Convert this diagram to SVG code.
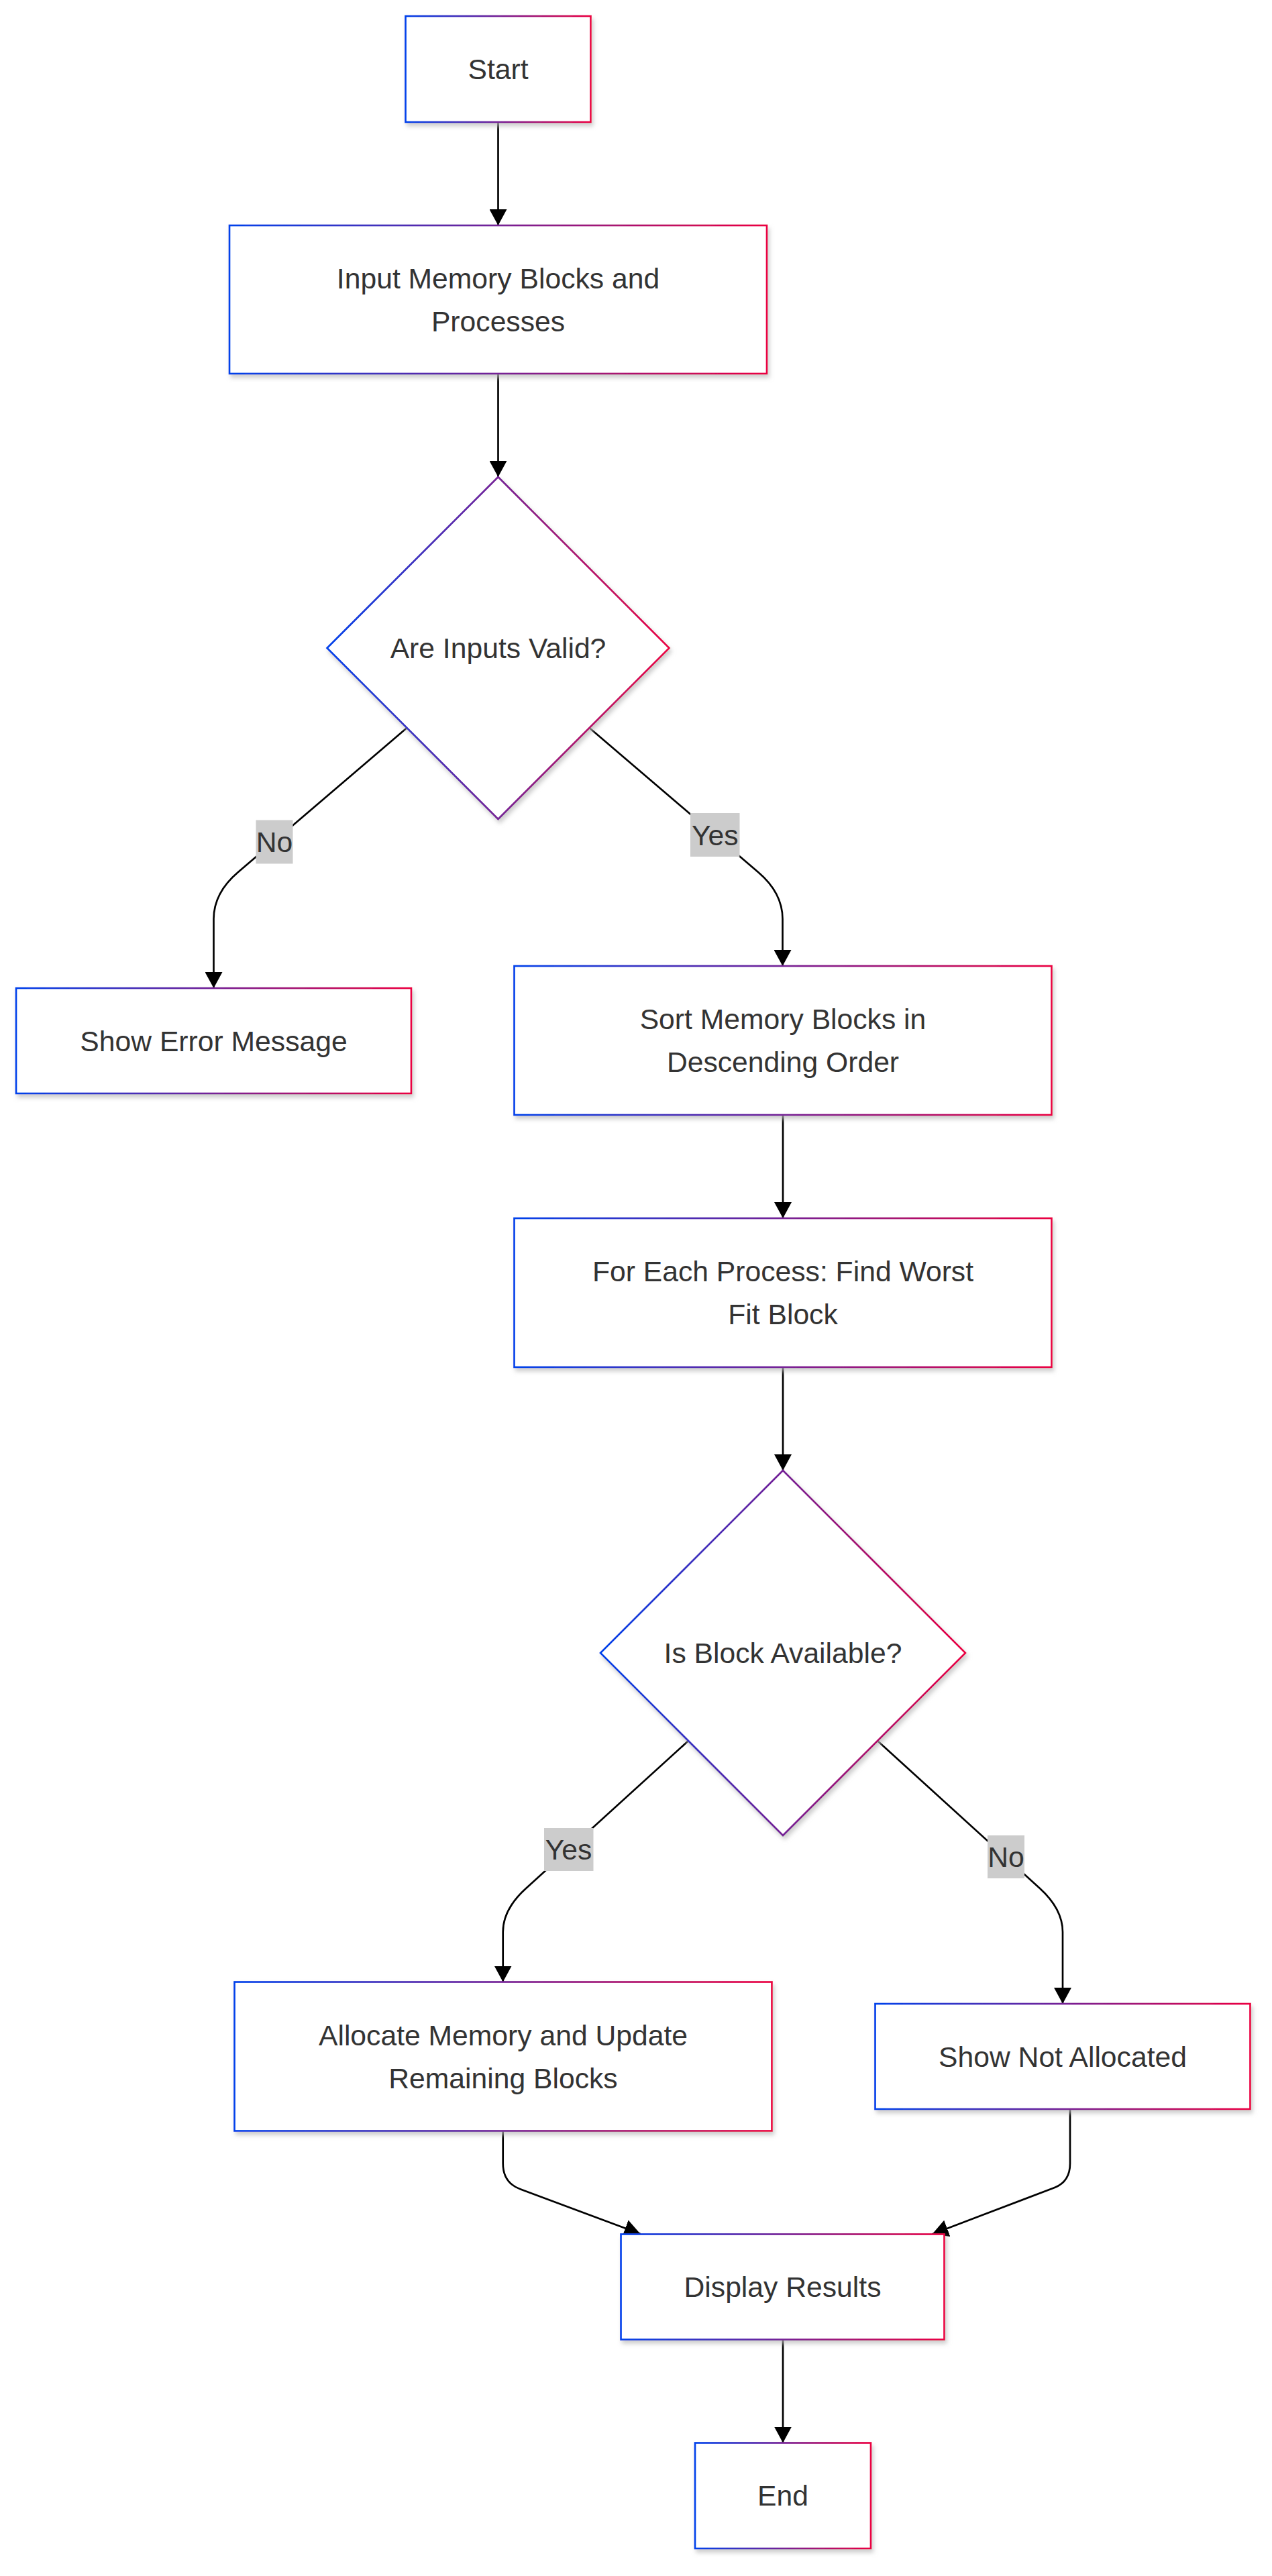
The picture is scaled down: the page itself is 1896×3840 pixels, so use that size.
<svg xmlns="http://www.w3.org/2000/svg" width="1896" height="3840" viewBox="0 0 1896 3840">
  <defs>
    <linearGradient id="grad" x1="0" y1="0" x2="1" y2="0">
      <stop offset="0" stop-color="#0042eb"/>
      <stop offset="1" stop-color="#eb0042"/>
    </linearGradient>
    <filter id="shadow" x="-10%" y="-10%" width="130%" height="130%">
      <feDropShadow dx="2.7" dy="5" stdDeviation="3" flood-color="#b9b9b9" flood-opacity="0.7"/>
    </filter>
    <marker id="arrow" markerUnits="userSpaceOnUse" markerWidth="24" markerHeight="26" viewBox="0 0 24 26" refX="24" refY="13" orient="auto">
      <path d="M0,0 L24,13 L0,26 z" fill="#000"/>
    </marker>
  </defs>
  <style>
    .node rect, .node polygon { fill: #ffffff; stroke: url(#grad); stroke-width: 2.67; filter: url(#shadow); }
    .node text, .label text { font-family: "Liberation Sans", Arial, sans-serif; font-size: 42.67px; fill: #333333; text-anchor: middle; }
    .edge { fill: none; stroke: #000000; stroke-width: 2.67; marker-end: url(#arrow); }
    .label rect { fill: #cccccc; }
  </style>
  <rect width="1896" height="3840" fill="#ffffff"/>

  <g id="connectors">
    <path class="edge" d="M742.5,182 L742.5,336"/>
    <path class="edge" d="M742.5,557 L742.5,711"/>
    <path class="edge" d="M606.5,1085 L355,1300 Q318.5,1331 318.5,1370 L318.5,1473"/>
    <path class="edge" d="M878.5,1085 L1130,1300 Q1166.5,1331 1166.5,1370 L1166.5,1440"/>
    <path class="edge" d="M1167,1662 L1167,1816"/>
    <path class="edge" d="M1167,2038 L1167,2192"/>
    <path class="edge" d="M1026,2595 L784,2815 Q749.7,2846 749.7,2880 L749.7,2954.5"/>
    <path class="edge" d="M1308,2595 L1550,2815 Q1584,2846 1584,2880 L1584,2987"/>
    <path class="edge" d="M749.7,3176.6 L749.7,3225 Q749.7,3254 776,3263.5 L954.5,3330"/>
    <path class="edge" d="M1595,3144 L1595,3225 Q1595,3252 1572,3261 L1389.4,3330.4"/>
    <path class="edge" d="M1167,3487.7 L1167,3641.5"/>
    <g class="label" id="label-no-1">
      <rect x="381.5" y="1222.5" width="55" height="65"/>
      <text x="409" y="1270">No</text>
    </g>
    <g class="label" id="label-yes-1">
      <rect x="1029" y="1212" width="73.5" height="65"/>
      <text x="1065.7" y="1259.5">Yes</text>
    </g>
    <g class="label" id="label-yes-2">
      <rect x="811" y="2725" width="73.5" height="64"/>
      <text x="847.6" y="2772">Yes</text>
    </g>
    <g class="label" id="label-no-2">
      <rect x="1472" y="2736" width="55" height="64"/>
      <text x="1499.5" y="2783">No</text>
    </g>
  </g>

  <g id="start" class="node">
    <rect x="604.5" y="24" width="276" height="158"/>
    <text x="742.5" y="118">Start</text>
  </g>
  <g id="input" class="node">
    <rect x="342" y="336" width="801" height="221"/>
    <text x="742.5" y="429.5">Input Memory Blocks and</text>
    <text x="742.5" y="493.5">Processes</text>
  </g>
  <g id="valid" class="node">
    <polygon points="742.5,711 997.5,966 742.5,1221 487.5,966"/>
    <text x="742.5" y="981">Are Inputs Valid?</text>
  </g>
  <g id="error" class="node">
    <rect x="24" y="1473" width="589" height="157"/>
    <text x="318.5" y="1566.5">Show Error Message</text>
  </g>
  <g id="sort" class="node">
    <rect x="766.5" y="1440" width="801" height="222"/>
    <text x="1167" y="1534">Sort Memory Blocks in</text>
    <text x="1167" y="1598">Descending Order</text>
  </g>
  <g id="foreach" class="node">
    <rect x="766.5" y="1816" width="801" height="222"/>
    <text x="1167" y="1910">For Each Process: Find Worst</text>
    <text x="1167" y="1974">Fit Block</text>
  </g>
  <g id="available" class="node">
    <polygon points="1167,2192 1439,2464 1167,2736 895,2464"/>
    <text x="1167" y="2479">Is Block Available?</text>
  </g>
  <g id="allocate" class="node">
    <rect x="349.5" y="2954.5" width="801" height="222"/>
    <text x="750" y="3048.5">Allocate Memory and Update</text>
    <text x="750" y="3112.5">Remaining Blocks</text>
  </g>
  <g id="notallocated" class="node">
    <rect x="1304.5" y="2987" width="559" height="157"/>
    <text x="1584" y="3080.5">Show Not Allocated</text>
  </g>
  <g id="display" class="node">
    <rect x="925.5" y="3330.5" width="482" height="157"/>
    <text x="1166.5" y="3424">Display Results</text>
  </g>
  <g id="end" class="node">
    <rect x="1036" y="3641.5" width="262" height="157.5"/>
    <text x="1167" y="3735">End</text>
  </g>
</svg>
